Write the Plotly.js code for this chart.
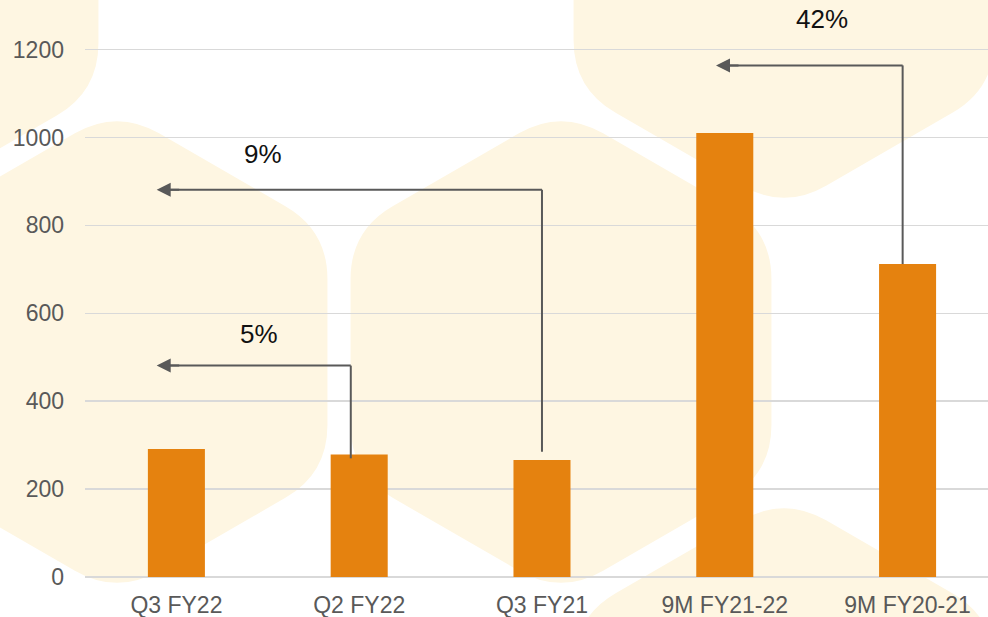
<!DOCTYPE html>
<html>
<head>
<meta charset="utf-8">
<script src="https://cdn.plot.ly/plotly-3.0.1.min.js"></script>
<style>html,body{margin:0;padding:0;background:#fff;}#chart{width:988px;height:617px;}</style>
</head>
<body>
<div id="chart"></div>
<script>
// ---- data ----
const categories = ['Q3 FY22', 'Q2 FY22', 'Q3 FY21', '9M FY21-22', '9M FY20-21'];
const values = [291, 279, 266, 1010, 712];

// growth arrows (category-index positions on x, value units on y)
const growthLabels = ['5%', '9%', '42%'];
const arrowFromX = [0.954, 2.0, 3.973];
const arrowToX = [-0.108, -0.108, 2.952];
const arrowBaseY = [270, 285, 712];
const arrowLevelY = [481, 881, 1164];
const labelX = [0.45, 0.472, 3.531];
const labelY = [553, 963, 1270];

// ---- layout constants ----
const yMax = 1215;
const W = 988, H = 617;
const M = {l: 85, r: 0, t: 43, b: 40};
const plotW = W - M.l - M.r, plotH = H - M.t - M.b;
const px2x = px => (px - M.l) / plotW;
const px2y = py => (H - M.b - py) / plotH;

// decorative rounded hexagons (pixel centres)
const hexes = [[-112, -30], [117, 352], [561, 352], [784, -33], [784, 739]];
function hexPath(cx, cy, R, t) {
  const v = [];
  for (let i = 0; i < 6; i++) {
    const a = (-90 + 60 * i) * Math.PI / 180;
    v.push([cx + R * Math.cos(a), cy + R * Math.sin(a)]);
  }
  const P = p => px2x(p[0]).toFixed(5) + ',' + px2y(p[1]).toFixed(5);
  let d = '';
  for (let i = 0; i < 6; i++) {
    const V = v[i], Pv = v[(i + 5) % 6], N = v[(i + 1) % 6];
    const A = [V[0] + (Pv[0] - V[0]) * t, V[1] + (Pv[1] - V[1]) * t];
    const B = [V[0] + (N[0] - V[0]) * t, V[1] + (N[1] - V[1]) * t];
    d += (i === 0 ? 'M' : 'L') + P(A) + 'Q' + P(V) + ' ' + P(B);
  }
  return d + 'Z';
}

const shapes = hexes.map(h => ({
  type: 'path', xref: 'paper', yref: 'paper', layer: 'below',
  path: hexPath(h[0], h[1], 243, 0.2),
  fillcolor: '#FEF6E2', line: {width: 0}
}));

const lineStyle = {color: '#595959', width: 2};
const annotations = [];
growthLabels.forEach((lab, i) => {
  shapes.push({type: 'line', xref: 'x', yref: 'y', x0: arrowFromX[i], x1: arrowFromX[i],
    y0: arrowBaseY[i], y1: arrowLevelY[i], line: lineStyle});
  shapes.push({type: 'line', xref: 'x', yref: 'y', x0: arrowFromX[i], x1: arrowToX[i] + 0.05,
    y0: arrowLevelY[i], y1: arrowLevelY[i], line: lineStyle});
  annotations.push({x: arrowToX[i], y: arrowLevelY[i], xref: 'x', yref: 'y',
    ax: 24, ay: 0, text: '', showarrow: true, arrowhead: 2, arrowsize: 1.4,
    arrowwidth: 2, arrowcolor: '#595959'});
  annotations.push({x: labelX[i], y: labelY[i] / yMax, xref: 'x', yref: 'paper', text: lab,
    xanchor: 'center', yanchor: 'middle',
    showarrow: false, font: {family: 'Liberation Sans, Arial, sans-serif', size: 26, color: '#111111'}});
});

const trace = {
  type: 'bar', x: categories, y: values,
  marker: {color: '#E5820F', line: {width: 0}},
  hoverinfo: 'skip'
};

const layout = {
  width: W, height: H,
  margin: M,
  paper_bgcolor: '#ffffff', plot_bgcolor: 'rgba(0,0,0,0)',
  bargap: 0.688,
  showlegend: false,
  font: {family: 'Liberation Sans, Arial, sans-serif', size: 23, color: '#595959'},
  xaxis: {
    type: 'category', range: [-0.5, 4.44], showgrid: false, showline: false,
    zeroline: false, ticks: '', ticklabelstandoff: 12, fixedrange: true
  },
  yaxis: {
    range: [0, yMax], dtick: 200, tick0: 0, showline: false,
    gridcolor: '#D9D9D9', gridwidth: 1.5,
    zeroline: true, zerolinecolor: '#D9D9D9', zerolinewidth: 1.5,
    ticks: '', ticklabelstandoff: 20, fixedrange: true
  },
  shapes: shapes,
  annotations: annotations
};

Plotly.newPlot('chart', [trace], layout, {displayModeBar: false, staticPlot: true});
</script>
</body>
</html>
